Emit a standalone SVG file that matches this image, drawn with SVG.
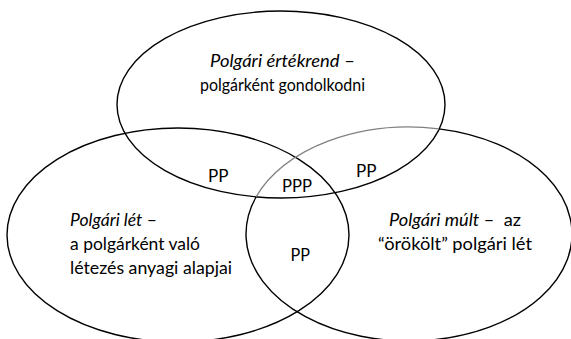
<svg xmlns="http://www.w3.org/2000/svg" width="571" height="339" viewBox="0 0 571 339">
  <style>
    .bg { fill: #ffffff; }
    .ring { fill: none; stroke: #000000; stroke-width: 1.4; }
    .ring-soft { fill: none; stroke: #808080; stroke-width: 1.4; }
    .t { font-family: Lato, "Open Sans", "Liberation Sans", sans-serif; font-size: 17px; fill: #000000; }
    .p { font-size: 17.5px; }
    .i { font-style: italic; }
  </style>
  <rect class="bg" x="0" y="0" width="571" height="339"/>
  <g id="connectors"></g>
  <g id="node-ertekrend">
    <ellipse class="ring" cx="281" cy="104.5" rx="164" ry="93.5"/>
    <text class="t" x="210" y="67" textLength="145" lengthAdjust="spacingAndGlyphs"><tspan class="i">Polgári értékrend</tspan> –</text>
    <text class="t" x="200" y="91" textLength="165" lengthAdjust="spacingAndGlyphs">polgárként gondolkodni</text>
  </g>
  <g id="node-let">
    <ellipse class="ring" cx="178" cy="235" rx="171" ry="107"/>
    <text class="t" x="70" y="226" textLength="87" lengthAdjust="spacingAndGlyphs"><tspan class="i">Polgári lét</tspan> –</text>
    <text class="t" x="70" y="250" textLength="130" lengthAdjust="spacingAndGlyphs">a polgárként való</text>
    <text class="t" x="70" y="274" textLength="162" lengthAdjust="spacingAndGlyphs">létezés anyagi alapjai</text>
  </g>
  <g id="node-mult">
    <path class="ring" d="M439,128.83 A163,107 0 1 1 256.2,196.75"/>
    <path class="ring-soft" d="M256.2,196.75 A163,107 0 0 1 439,128.83"/>
    <text class="t" x="389" y="226" textLength="132" lengthAdjust="spacingAndGlyphs" xml:space="preserve"><tspan class="i">Polgári múlt</tspan> –  az</text>
    <text class="t" x="378" y="250" textLength="154" lengthAdjust="spacingAndGlyphs">“örökölt” polgári lét</text>
  </g>
  <g id="node-pp-ertekrend-let">
    <text class="t p" x="208" y="181.5" textLength="20.5" lengthAdjust="spacingAndGlyphs">PP</text>
  </g>
  <g id="node-ppp">
    <text class="t p" x="282" y="192" textLength="30" lengthAdjust="spacingAndGlyphs">PPP</text>
  </g>
  <g id="node-pp-ertekrend-mult">
    <text class="t p" x="356" y="176.5" textLength="20.5" lengthAdjust="spacingAndGlyphs">PP</text>
  </g>
  <g id="node-pp-let-mult">
    <text class="t p" x="290.5" y="260.5" textLength="19.5" lengthAdjust="spacingAndGlyphs">PP</text>
  </g>
</svg>
